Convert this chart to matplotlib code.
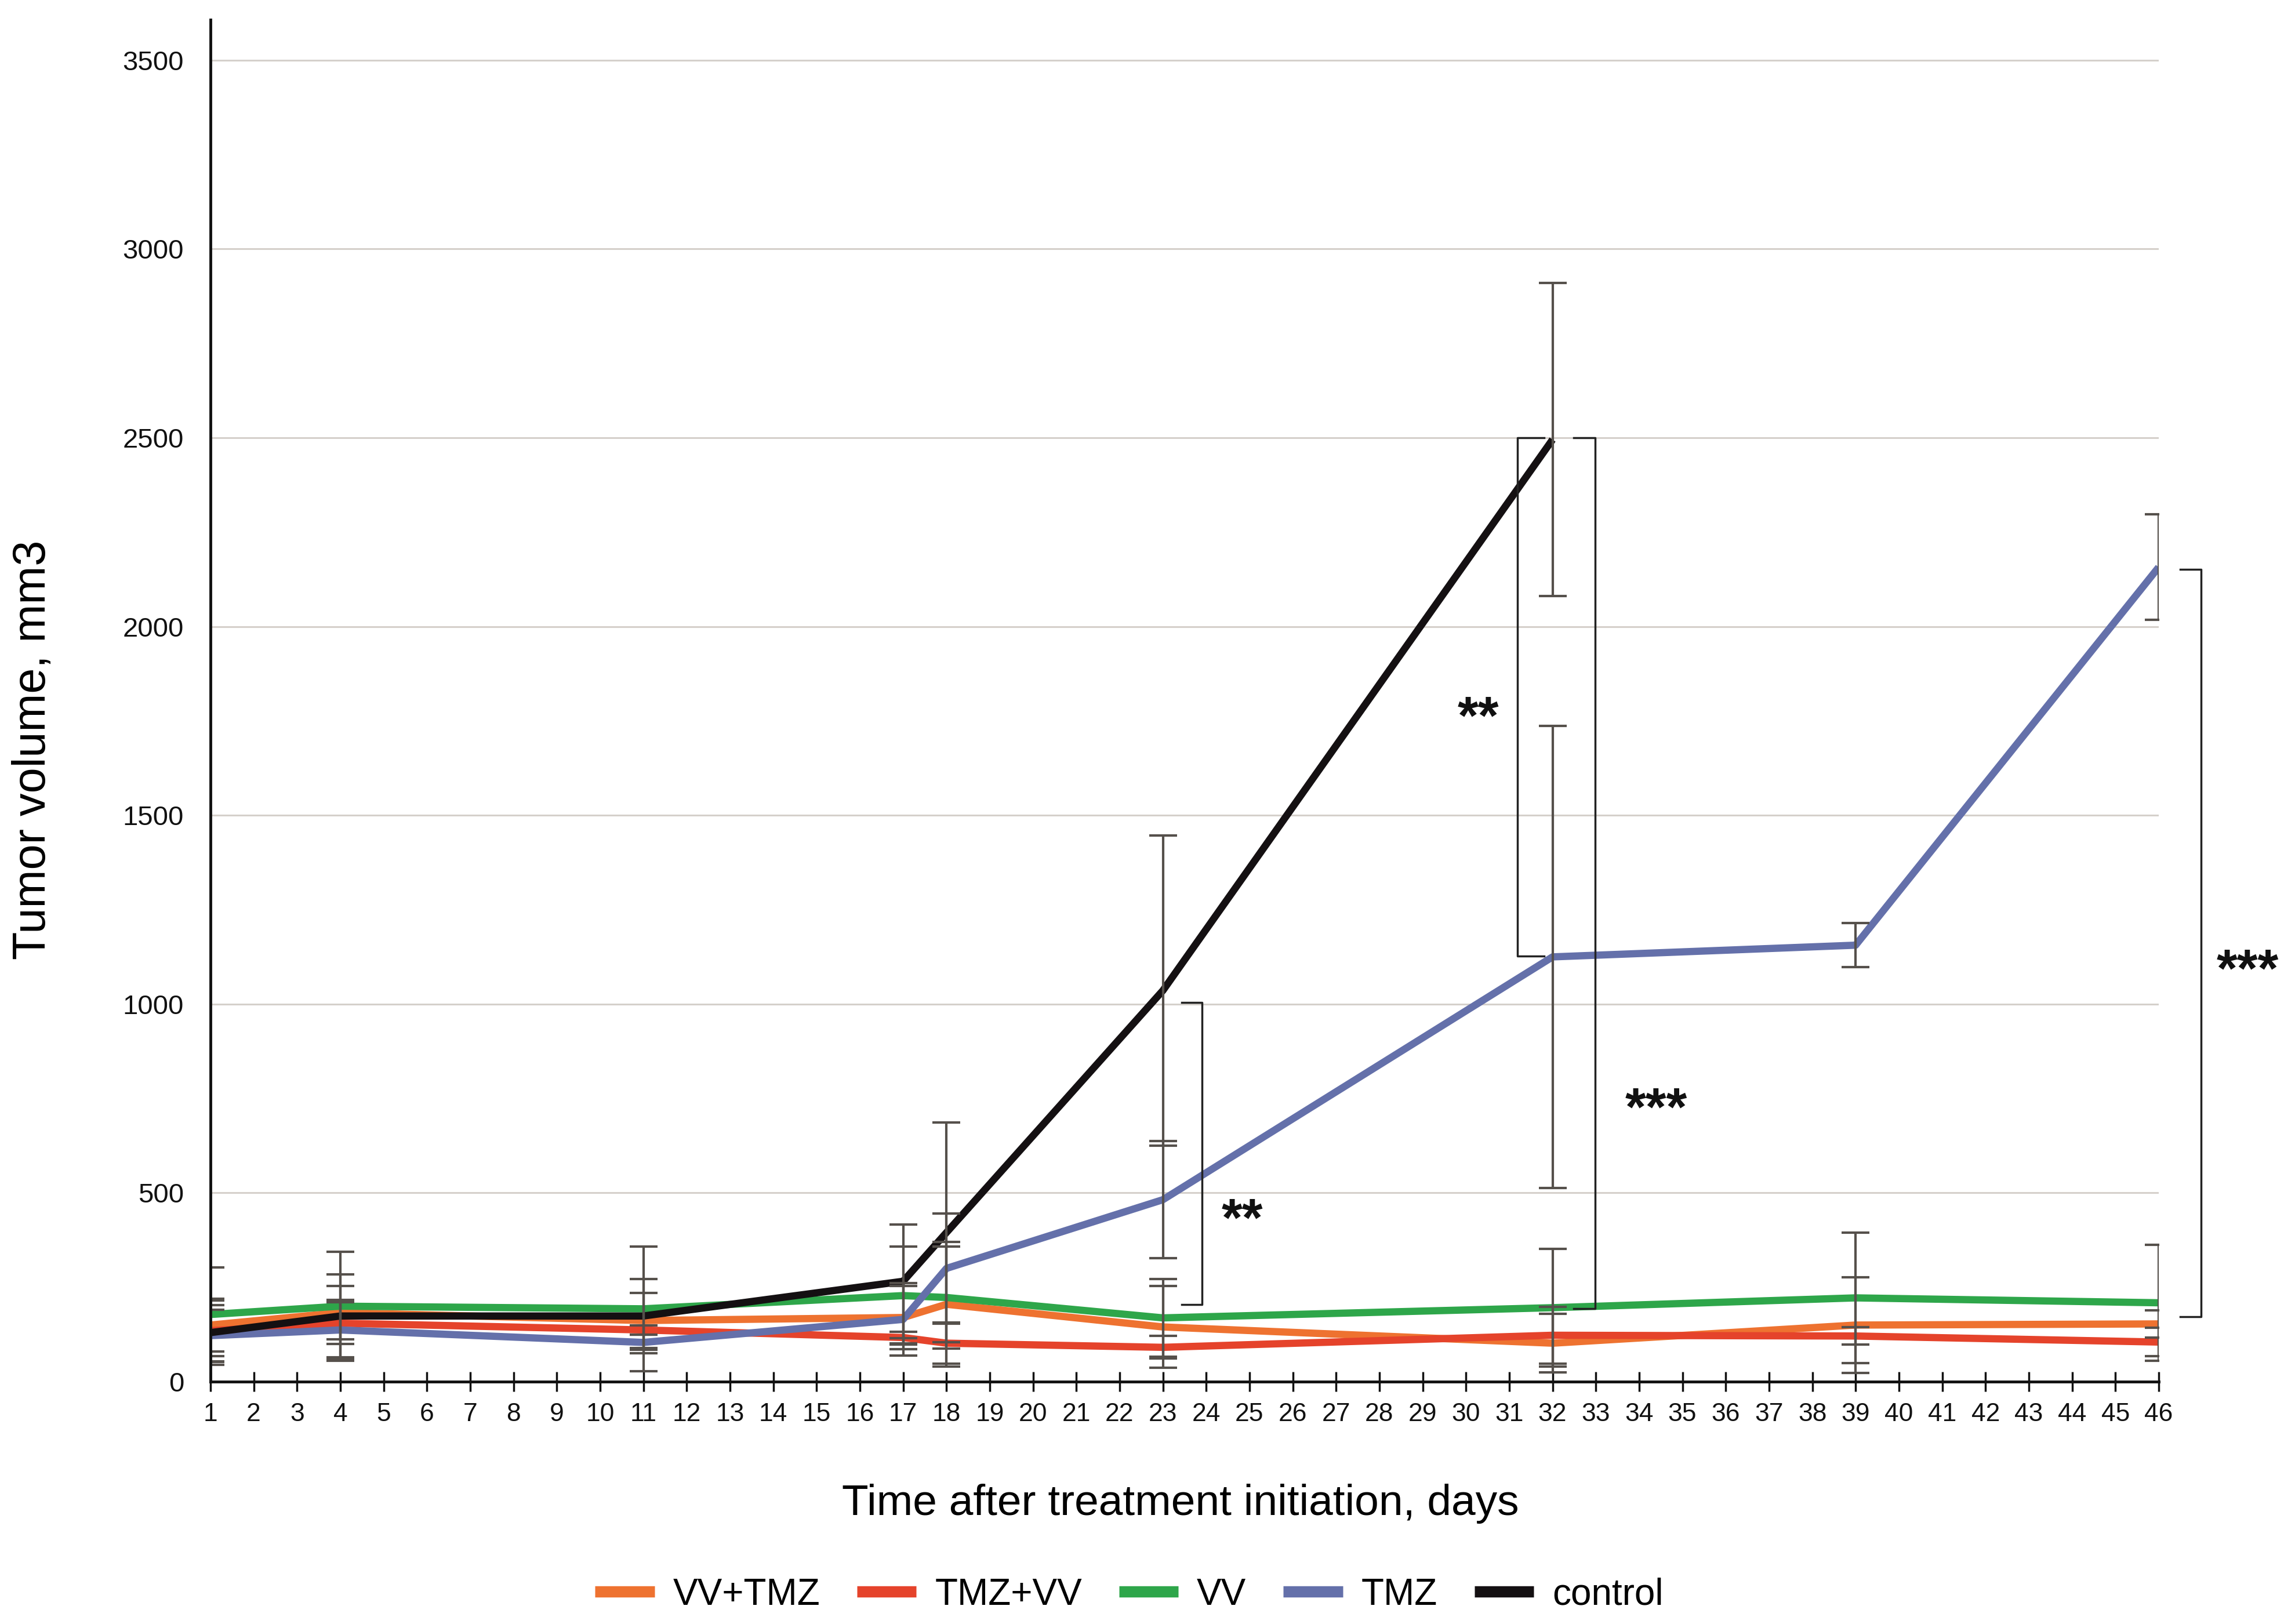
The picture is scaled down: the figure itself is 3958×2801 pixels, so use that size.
import matplotlib
matplotlib.use("Agg")
import matplotlib.pyplot as plt
from matplotlib import font_manager

# ── data ─────────────────────────────────────────────────────────────────────
days = [1, 4, 11, 17, 18, 23, 32, 39, 46]
control_days = [1, 4, 11, 17, 18, 23, 32]

vv_tmz = [150, 183, 162, 170, 205, 145, 102, 150, 153]
vv_tmz_err = [70, 71, 73, 84, 165, 108, 78, 127, 36]

tmz_vv = [135, 155, 137, 117, 102, 91, 123, 121, 105]
tmz_vv_err = [68, 55, 12, 15, 54, 30, 75, 23, 38]

vv = [178, 200, 193, 228, 223, 169, 196, 222, 209]
vv_err = [125, 144, 165, 130, 135, 103, 156, 173, 154]

tmz = [122, 137, 104, 165, 300, 482, 1125, 1156, 2157]
tmz_err = [68, 79, 20, 96, 146, 155, 612, 58, 140]

control = [130, 174, 174, 266, 395, 1036, 2495]
control_err = [85, 110, 98, 150, 291, 411, 415]

series_names = ["VV+TMZ", "TMZ+VV", "VV", "TMZ", "control"]
series_colors = ["#EE7230", "#E5432B", "#2EA64A", "#6470AA", "#141012"]

y_ticks = [0, 500, 1000, 1500, 2000, 2500, 3000, 3500]
x_ticks = list(range(1, 47))

# significance brackets: (x_left, x_right, y_top, y_bottom)
brackets = [
    (23.43, 23.9, 1005, 205),
    (31.8, 31.19, 2500, 1127),
    (32.49, 32.98, 2500, 193),
    (46.5, 46.98, 2152, 172),
]
stars = [("**", 24.83, 424), ("**", 30.28, 1753), ("***", 34.4, 717), ("***", 48.06, 1084)]

# ── fonts ────────────────────────────────────────────────────────────────────
names = {f.name for f in font_manager.fontManager.ttflist}
base_font = "Liberation Sans" if "Liberation Sans" in names else "DejaVu Sans"
narrow_font = "Liberation Sans Narrow" if "Liberation Sans Narrow" in names else base_font
plt.rcParams["font.family"] = base_font

fig = plt.figure(figsize=(39.58, 28.01), dpi=100)
ax = fig.add_axes([0.0917, 0.1492, 0.9406 - 0.0917, 0.9879 - 0.1492])

all_vals = [vv_tmz, tmz_vv, vv, tmz, control]
all_errs = [vv_tmz_err, tmz_vv_err, vv_err, tmz_err, control_err]
all_days = [days, days, days, days, control_days]

lines = []
for name, col, x, y in zip(series_names, series_colors, all_days, all_vals):
    ln, = ax.plot(x, y, color=col, lw=9, label=name, zorder=3, solid_capstyle="butt")
    lines.append(ln)

for x, y, e in zip(all_days, all_vals, all_errs):
    ax.errorbar(x, y, yerr=e, fmt="none", ecolor="#55504B", elinewidth=3,
                capsize=17, capthick=3, zorder=6)

# brackets + stars
for xl, xr, yt, yb in brackets:
    ax.plot([xl, xr, xr, xl], [yt, yt, yb, yb], color="#222222", lw=2.5,
            clip_on=False, zorder=7)
for txt, x, y in stars:
    ax.text(x, y, txt, fontsize=66, fontweight="bold", ha="center", va="center",
            color="#111111", clip_on=False, zorder=8)

ax.set_xlim(1, 46)
ax.set_ylim(0, 3607)
ax.set_yticks(y_ticks)
ax.set_yticklabels([str(v) for v in y_ticks])
ax.set_xticks(x_ticks)
ax.set_xticklabels([str(v) for v in x_ticks], fontfamily=narrow_font)

ax.grid(axis="y", color="#D5D0CB", lw=2.2, zorder=0)
ax.set_axisbelow(True)

for s in ["top", "right"]:
    ax.spines[s].set_visible(False)
for s in ["left", "bottom"]:
    ax.spines[s].set_linewidth(3.5)
    ax.spines[s].set_color("#111111")
    ax.spines[s].set_zorder(9)

ax.tick_params(axis="x", direction="inout", length=24, width=2.5, labelsize=32,
               pad=14, colors="#111111")
ax.tick_params(axis="y", length=0, labelsize=34, pad=33, colors="#111111")

ax.set_xlabel("Time after treatment initiation, days", fontsize=54)
ax.xaxis.set_label_coords(0.498, -0.075)
ax.set_ylabel("Tumor volume, mm3", fontsize=57)
ax.yaxis.set_label_coords(-0.0796, 0.464)

leg = fig.legend(handles=lines, labels=series_names, loc="center",
                 bbox_to_anchor=(0.492, 0.018), ncol=5, frameon=False,
                 fontsize=46, handlelength=1.6, handletextpad=0.5,
                 columnspacing=1.0)
for h in leg.get_lines():
    h.set_linewidth(14)

fig.savefig("out.png", dpi=100)
